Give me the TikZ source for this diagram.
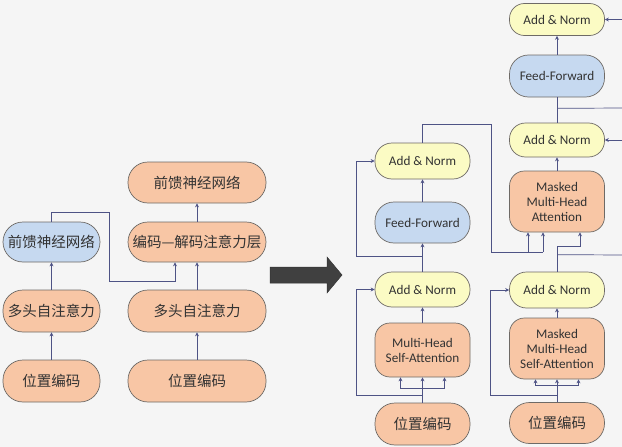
\documentclass[tikz,border=0pt]{standalone}
\usepackage{fontspec}
\setmainfont{Carlito}
\newfontfamily\cjk{Noto Sans CJK SC}
\usetikzlibrary{arrows.meta,calc}
\definecolor{bgc}{HTML}{F5F5F5}
\definecolor{orangef}{HTML}{F8C6A5}
\definecolor{bluef}{HTML}{C6D9F0}
\definecolor{yellowf}{HTML}{FBFBC4}
\definecolor{edgec}{HTML}{6E6A66}
\definecolor{linec}{HTML}{4E5385}
\definecolor{txtc}{HTML}{333333}
\definecolor{bigarrow}{HTML}{404040}
\tikzset{
  basebox/.style={draw=edgec, line width=0.7pt, inner sep=0pt, align=center, text=txtc},
  orangebox/.style={basebox, fill=orangef},
  bluebox/.style={basebox, fill=bluef},
  yellowbox/.style={basebox, fill=yellowf},
  cn/.style={font=\cjk\fontsize{14.5}{17}\selectfont},
  en/.style={font=\fontsize{13.2}{15}\selectfont},
  conn/.style={draw=linec, line width=0.7pt},
  arr/.style={conn, -{Stealth[length=4pt,width=4pt]}}
}
\begin{document}
\begin{tikzpicture}[x=1pt,y=-1pt]
\path[use as bounding box, fill=bgc] (0,0) rectangle (622,447);

% ---------- left: simple encoder / decoder ----------
\node[orangebox, cn, minimum width=97pt, minimum height=42pt, rounded corners=20pt] (lepe) at (51.5,381) {位置编码};
\node[orangebox, cn, minimum width=97pt, minimum height=42pt, rounded corners=20pt] (lemh) at (51.5,311) {多头自注意力};
\node[bluebox, cn, minimum width=97pt, minimum height=40pt, rounded corners=20pt] (leff) at (51.5,242) {前馈神经网络};

\node[orangebox, cn, minimum width=138pt, minimum height=42pt, rounded corners=20pt] (ldpe) at (197,381) {位置编码};
\node[orangebox, cn, minimum width=138pt, minimum height=42pt, rounded corners=20pt] (ldmh) at (197,311) {多头自注意力};
\node[orangebox, cn, minimum width=138pt, minimum height=40pt, rounded corners=20pt] (lded) at (197,242) {编码—解码注意力层};
\node[orangebox, cn, minimum width=138pt, minimum height=41pt, rounded corners=20pt] (ldff) at (197,182.5) {前馈神经网络};

\draw[arr] (lepe.north) -- (lemh.south);
\draw[arr] (lemh.north) -- (leff.south);
\draw[arr] (ldpe.north) -- (ldmh.south);
\draw[arr] (ldmh.north) -- (lded.south);
\draw[arr] (lded.north) -- (ldff.south);
\coordinate (k1) at (109,212);
\coordinate (k2) at (175,281);
\draw[arr] (leff.north) |- (k1) |- (k2) -- (k2 |- lded.south);

% ---------- big arrow ----------
\path[fill=bigarrow, draw=bigarrow!80!black, line width=0.5pt]
  (270,267) -- (327,267) -- (327,257) -- (342,275) -- (327,293) -- (327,283) -- (270,283) -- cycle;

% ---------- right: transformer encoder ----------
\node[orangebox, cn, minimum width=95pt, minimum height=42pt, rounded corners=20pt] (repe) at (422.5,424) {位置编码};
\node[orangebox, en, minimum width=95pt, minimum height=54pt, rounded corners=15pt] (remh) at (422.5,350) {Multi-Head\\Self-Attention};
\node[yellowbox, en, minimum width=95pt, minimum height=35pt, rounded corners=17pt] (rean1) at (422.5,289.5) {Add \& Norm};
\node[bluebox, en, minimum width=95pt, minimum height=41pt, rounded corners=19pt] (reff) at (422.5,222.5) {Feed-Forward};
\node[yellowbox, en, minimum width=95pt, minimum height=36pt, rounded corners=17pt] (rean2) at (422.5,161) {Add \& Norm};

\draw[arr] (repe.north) -- (remh.south);
\coordinate (ef) at ($(remh.south)+(0,11)$);
\draw[arr] (ef) -| ($(remh.south)+(-22,0)$);
\draw[arr] (ef) -| ($(remh.south)+(22,0)$);
\draw[arr] ($(repe.north)+(0,-7)$) -- ++(-66.5,0) |- (rean1.west);
\draw[arr] (remh.north) -- (rean1.south);
\draw[arr] (rean1.north) -- (reff.south);
\draw[arr] ($(rean1.north)+(0,-15)$) -- ++(-66.5,0) |- (rean2.west);
\draw[arr] (reff.north) -- (rean2.south);

% ---------- right: transformer decoder ----------
\node[orangebox, cn, minimum width=95pt, minimum height=41pt, rounded corners=20pt] (rdpe) at (557,423) {位置编码};
\node[orangebox, en, minimum width=95pt, minimum height=61pt, rounded corners=15pt] (rdmh) at (557,348.5) {Masked\\Multi-Head\\Self-Attention};
\node[yellowbox, en, minimum width=95pt, minimum height=36pt, rounded corners=17pt] (rdan1) at (557,290) {Add \& Norm};
\node[orangebox, en, minimum width=95pt, minimum height=61pt, rounded corners=15pt] (rdmm) at (557,201.5) {Masked\\Multi-Head\\Attention};
\node[yellowbox, en, minimum width=95pt, minimum height=34pt, rounded corners=16pt] (rdan2) at (557,140) {Add \& Norm};
\node[bluebox, en, minimum width=95pt, minimum height=42pt, rounded corners=19pt] (rdff) at (557,76) {Feed-Forward};
\node[yellowbox, en, minimum width=95pt, minimum height=32pt, rounded corners=15pt] (rdan3) at (557,19.5) {Add \& Norm};

\draw[arr] (rdpe.north) -- (rdmh.south);
\coordinate (df) at ($(rdmh.south)+(0,6)$);
\draw[arr] (df) -| ($(rdmh.south)+(-21.5,0)$);
\draw[arr] (df) -| ($(rdmh.south)+(21.5,0)$);
\draw[arr] ($(rdpe.north)+(0,-7)$) -- ++(-67,0) |- (rdan1.west);
\draw[arr] (rdmh.north) -- (rdan1.south);

% lower decoder output to masked multi-head attention (query)
\coordinate (q1) at ($(rdan1.north)+(0,-25)$);
\draw[arr] (rdan1.north) -- (q1) -| ($(rdmm.south)+(23,0)$);
\coordinate (edgeA) at (622,255);
\draw[conn] ($(rdan1.north)+(0,-17)$) -- (edgeA);

% encoder output to masked multi-head attention (keys, values)
\coordinate (o1) at (491,124);
\coordinate (o2) at (543,252);
\draw[conn] (rean2.north) |- (o1) |- (o2);
\draw[arr] (o2) -- (o2 |- rdmm.south);
\draw[arr] ($(rdmm.south)+(-29,20.5)$) -- ($(rdmm.south)+(-29,0)$);

\draw[arr] (rdmm.north) -- (rdan2.south);
\draw[conn] (rdan2.north) -- (rdff.south);
\coordinate (edgeB) at (622,108);
\draw[conn] ($(rdff.south)+(0,11)$) -- (edgeB);
\draw[arr] (rdff.north) -- (rdan3.south);

\coordinate (edgeC) at (622,19.5);
\coordinate (edgeD) at (622,140);
\draw[arr] (edgeC) -- (rdan3.east);
\draw[arr] (edgeD) -- (rdan2.east);
\end{tikzpicture}
\end{document}
